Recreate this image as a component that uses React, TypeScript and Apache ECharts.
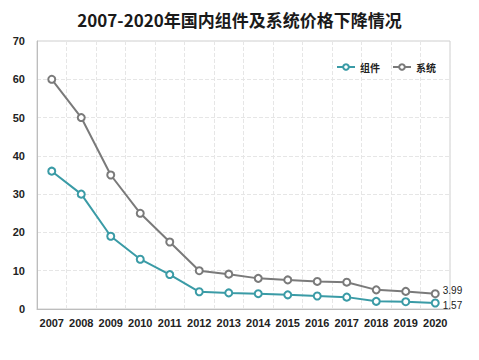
import React, { useEffect, useRef } from "react";
import * as echarts from "echarts";

const years = ["2007","2008","2009","2010","2011","2012","2013","2014","2015","2016","2017","2018","2019","2020"];
const moduleValues = [36, 30, 19, 13, 9, 4.5, 4.2, 4.0, 3.7, 3.4, 3.1, 2.0, 1.9, 1.57];
const systemValues = [60, 50, 35, 25, 17.5, 10, 9.1, 8.0, 7.6, 7.2, 7.0, 5.0, 4.6, 3.99];
const yTicks = [0, 10, 20, 30, 40, 50, 60, 70];

export default function App() {
  const ref = useRef<HTMLDivElement>(null);
  useEffect(() => {
    const chart = echarts.init(ref.current!, null, { renderer: "svg" });
    const lastLabel = (n: number, dy: number) => ({
      show: true,
      position: "right" as const,
      distance: 3,
      offset: [0, dy],
      fontSize: 10,
      lineHeight: 10,
      color: "#222",
      formatter: (p: any) => (p.dataIndex === n - 1 ? String(p.value) : ""),
    });
    chart.setOption({
      animation: false,
      title: {
        text: "2007-2020年国内组件及系统价格下降情况",
        left: "center",
        top: 6,
        textStyle: { fontSize: 17, fontWeight: "bold", color: "#1a1a1a", fontFamily: "Noto Sans CJK SC" },
      },
      legend: {
        right: 38,
        top: 57,
        itemWidth: 18,
        itemHeight: 7,
        itemGap: 12,
        textStyle: { fontSize: 10, color: "#222", fontWeight: "bold", fontFamily: "Noto Sans CJK SC" },
        data: ["组件", "系统"],
      },
      grid: {
        left: 37,
        right: 29,
        top: 41,
        bottom: 51,
        show: true,
        borderColor: "#cfcfcf",
        borderWidth: 1,
      },
      xAxis: {
        type: "category",
        data: years,
        boundaryGap: true,
        axisLine: { lineStyle: { color: "#bdbdbd" } },
        axisTick: { show: false },
        axisLabel: { interval: 0, fontSize: 11, fontWeight: "bold", color: "#222", margin: 8, fontFamily: "Liberation Sans" },
        splitLine: { show: true, lineStyle: { type: "dashed", color: "#e6e6e6" } },
      },
      yAxis: {
        type: "value",
        min: yTicks[0],
        max: yTicks[yTicks.length - 1],
        interval: 10,
        axisLine: { show: true, lineStyle: { color: "#bdbdbd" } },
        axisTick: { show: false },
        axisLabel: { fontSize: 11, fontWeight: "bold", color: "#222", margin: 12, fontFamily: "Liberation Sans" },
        splitLine: { show: true, lineStyle: { type: "dashed", color: "#e6e6e6" } },
      },
      series: [
        {
          name: "组件",
          type: "line",
          data: moduleValues,
          symbol: "emptyCircle",
          symbolSize: 7,
          color: "#3a9ba6",
          lineStyle: { width: 2, color: "#3a9ba6" },
          itemStyle: { color: "#3a9ba6", borderWidth: 1.5 },
          label: lastLabel(moduleValues.length, 3),
        },
        {
          name: "系统",
          type: "line",
          data: systemValues,
          symbol: "emptyCircle",
          symbolSize: 7,
          color: "#7a7a7a",
          lineStyle: { width: 2, color: "#7a7a7a" },
          itemStyle: { color: "#7a7a7a", borderWidth: 1.5 },
          label: lastLabel(systemValues.length, -3),
        },
      ],
    });
    return () => chart.dispose();
  }, []);
  return <div ref={ref} style={{ width: 479, height: 360, margin: -8 }} />;
}
